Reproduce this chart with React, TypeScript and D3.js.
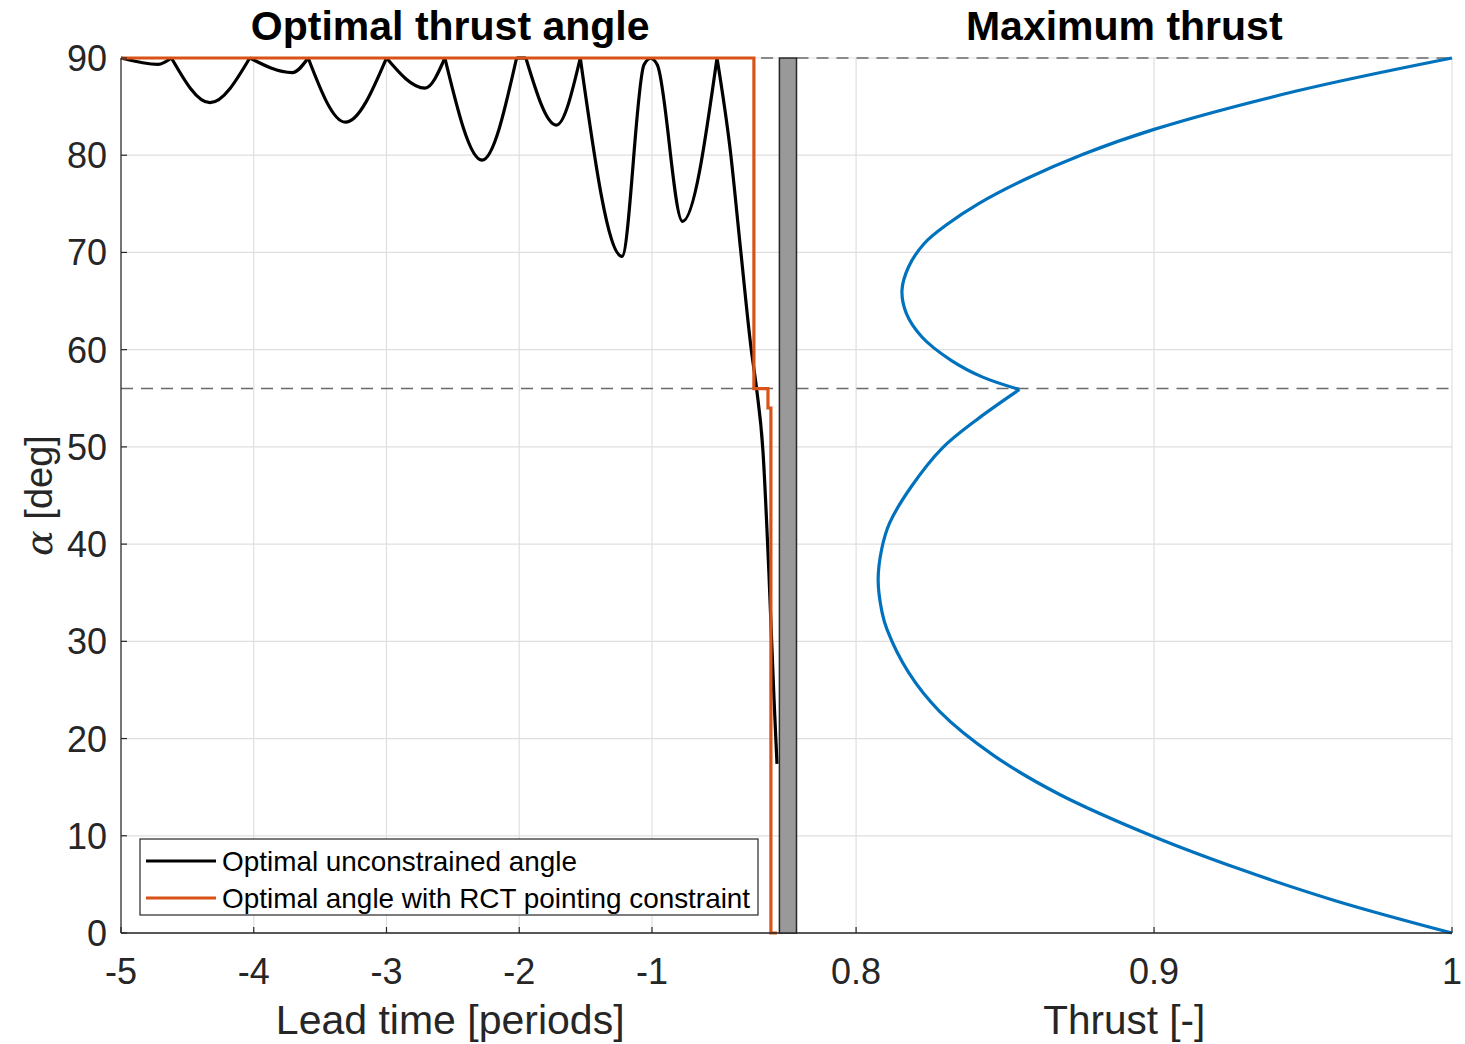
import React from "react";
import * as d3 from "d3";

// ---- data ----
const yTicks = [0, 10, 20, 30, 40, 50, 60, 70, 80, 90];
const leftTicks = [-5, -4, -3, -2, -1];
const rightTicks = [0.8, 0.9, 1];
const refLines = [90, 56];

// Optimal unconstrained angle (lead time [periods], alpha [deg])
const unconstrained: [number, number][] = [
  [-5, 90], [-4.72, 89.35], [-4.62, 90],
  [-4.33, 85.4], [-4.03, 90],
  [-3.71, 88.5], [-3.59, 90],
  [-3.31, 83.4], [-3.0, 90],
  [-2.71, 86.9], [-2.56, 90],
  [-2.28, 79.5], [-2.02, 90], [-1.95, 90],
  [-1.72, 83.1], [-1.54, 90],
  [-1.226, 69.6], [-1.06, 89.3], [-1.01, 89.95], [-0.96, 89.3],
  [-0.77, 73.2], [-0.51, 90],
  [-0.41, 80.5], [-0.33, 70], [-0.252, 60], [-0.212, 56], [-0.164, 49.6],
  [-0.119, 37], [-0.081, 24.2], [-0.058, 17.4],
];

// Optimal angle with RCT pointing constraint
const constrained: [number, number][] = [
  [-5, 90], [-0.232, 90], [-0.232, 56], [-0.126, 56], [-0.126, 54],
  [-0.104, 54], [-0.104, 0], [-0.058, 0],
];

// Maximum thrust (thrust [-], alpha [deg]) - upper branch (alpha > 56)
const thrustUpper: [number, number][] = [
  [1.0, 90], [0.9478, 86.6], [0.9, 82.66], [0.8762, 80.1], [0.8566, 77.5],
  [0.841, 75.0], [0.8306, 72.9], [0.8228, 70.9], [0.8176, 68.5],
  [0.8154, 66.1], [0.8169, 63.7], [0.8221, 61.3], [0.8319, 58.9],
  [0.8423, 57.2], [0.8548, 55.9],
];
// lower branch (alpha < 56)
const thrustLower: [number, number][] = [
  [0.8548, 55.9], [0.8405, 52.8], [0.829, 49.9], [0.8185, 45.9],
  [0.8113, 42.2], [0.8086, 39.5], [0.8074, 36.3], [0.8087, 33.0],
  [0.8104, 31.2], [0.8176, 26.8], [0.828, 22.8], [0.846, 18.3],
  [0.868, 14.3], [0.9, 9.9], [0.9285, 6.6],
  [0.9611, 3.3], [1.0, 0],
];

const W = 1465;
const H = 1044;
const FONT = "'Liberation Sans', Arial, Helvetica, sans-serif";
const TXT = "#262626";
const GRID = "#dfdfdf";

export default function App() {
  const y = d3.scaleLinear().domain([0, 90]).range([933, 58]);
  const xL = d3.scaleLinear().domain([-5, -0.04]).range([121, 779.4]);
  const xR = d3.scaleLinear().domain([0.78, 1]).range([796.5, 1452]);

  const [l0, l1] = xL.range();
  const [r0, r1] = xR.range();
  const [yb, yt] = y.range();

  // split unconstrained curve at 90-deg touch points to keep cusps
  const segs: [number, number][][] = [];
  let cur: [number, number][] = [];
  unconstrained.forEach((p) => {
    cur.push(p);
    if (p[1] === 90 && cur.length > 1) {
      segs.push(cur);
      cur = [p];
    }
  });
  if (cur.length > 1) segs.push(cur);

  const blackLine = d3
    .line<[number, number]>()
    .x((d) => xL(d[0]))
    .y((d) => y(d[1]))
    .curve(d3.curveMonotoneX);
  const orangeLine = d3
    .line<[number, number]>()
    .x((d) => xL(d[0]))
    .y((d) => y(d[1]));
  const blueLine = d3
    .line<[number, number]>()
    .x((d) => xR(d[0]))
    .y((d) => y(d[1]))
    .curve(d3.curveCatmullRom.alpha(0.5));

  return (
    <svg
      width={W}
      height={H}
      style={{ position: "absolute", left: 0, top: 0, background: "#fff" }}
      fontFamily={FONT}
    >
      <rect x={0} y={0} width={W} height={H} fill="#fff" />
      {/* grid */}
      <g stroke={GRID} strokeWidth={1.2}>
        {yTicks.map((t) => (
          <g key={"gy" + t}>
            <line x1={l0} x2={l1} y1={y(t)} y2={y(t)} />
            <line x1={r0} x2={r1} y1={y(t)} y2={y(t)} />
          </g>
        ))}
        {leftTicks.map((t) => (
          <line key={"gl" + t} x1={xL(t)} x2={xL(t)} y1={yb} y2={yt} />
        ))}
        {rightTicks.map((t) => (
          <line key={"gr" + t} x1={xR(t)} x2={xR(t)} y1={yb} y2={yt} />
        ))}
      </g>
      {/* dashed reference lines */}
      <g stroke="#6a6a6a" strokeWidth={1.5} strokeDasharray="12,8">
        {refLines.map((r) => (
          <g key={"r" + r}>
            <line x1={l0} x2={l1} y1={y(r)} y2={y(r)} />
            <line x1={r0} x2={r1} y1={y(r)} y2={y(r)} />
          </g>
        ))}
      </g>
      {/* curves */}
      <g fill="none" stroke="#000" strokeWidth={3.2} strokeLinejoin="round">
        {segs.map((s, i) => (
          <path key={"b" + i} d={blackLine(s) || ""} />
        ))}
      </g>
      <path d={orangeLine(constrained) || ""} fill="none" stroke="#D95319" strokeWidth={3.2} />
      <path d={blueLine(thrustUpper) || ""} fill="none" stroke="#0072BD" strokeWidth={3.2} />
      <path d={blueLine(thrustLower) || ""} fill="none" stroke="#0072BD" strokeWidth={3.2} />

      {/* axes */}
      <line x1={l0} x2={l0} y1={yb} y2={yt} stroke={TXT} strokeWidth={1.2} />
      <line x1={l0} x2={r1} y1={yb} y2={yb} stroke={TXT} strokeWidth={1.5} />
      {yTicks.map((t) => (
        <g key={"yt" + t}>
          <line x1={l0} x2={l0 + 6} y1={y(t)} y2={y(t)} stroke={TXT} strokeWidth={1.2} />
          <text x={107} y={y(t)} dy="0.36em" textAnchor="end" fontSize={36} fill={TXT}>
            {t}
          </text>
        </g>
      ))}
      {leftTicks.map((t) => (
        <g key={"xl" + t}>
          <line x1={xL(t)} x2={xL(t)} y1={yb} y2={yb - 6} stroke={TXT} strokeWidth={1.2} />
          <text x={xL(t)} y={984} textAnchor="middle" fontSize={36} fill={TXT}>
            {String(t)}
          </text>
        </g>
      ))}
      {rightTicks.map((t) => (
        <g key={"xr" + t}>
          <line x1={xR(t)} x2={xR(t)} y1={yb} y2={yb - 6} stroke={TXT} strokeWidth={1.2} />
          <text x={xR(t)} y={984} textAnchor="middle" fontSize={36} fill={TXT}>
            {String(t)}
          </text>
        </g>
      ))}

      {/* gray separator bar */}
      <rect x={l1} y={yt} width={r0 - l1} height={yb - yt} fill="#999999" stroke={TXT} strokeWidth={1.5} />

      {/* legend */}
      <rect x={140} y={839} width={618} height={76} fill="#fff" stroke={TXT} strokeWidth={1.2} />
      <line x1={146} x2={216} y1={861} y2={861} stroke="#000" strokeWidth={3.2} />
      <text x={222} y={861} dy="0.36em" fontSize={27.9} fill="#000">
        Optimal unconstrained angle
      </text>
      <line x1={146} x2={216} y1={898} y2={898} stroke="#D95319" strokeWidth={3.2} />
      <text x={222} y={898} dy="0.36em" fontSize={27.9} fill="#000">
        Optimal angle with RCT pointing constraint
      </text>

      {/* titles */}
      <text x={(l0 + l1) / 2} y={40} textAnchor="middle" fontSize={41} fontWeight="bold" fill="#000">
        Optimal thrust angle
      </text>
      <text x={(r0 + r1) / 2} y={40} textAnchor="middle" fontSize={41} fontWeight="bold" fill="#000">
        Maximum thrust
      </text>

      {/* axis labels */}
      <text x={(l0 + l1) / 2} y={1034} textAnchor="middle" fontSize={41} fill={TXT}>
        Lead time [periods]
      </text>
      <text x={(r0 + r1) / 2} y={1034} textAnchor="middle" fontSize={40.5} fill={TXT}>
        Thrust [-]
      </text>
      <text transform={`translate(52, ${(yb + yt) / 2}) rotate(-90)`} textAnchor="middle" fontSize={38} fill={TXT}>
        <tspan fontFamily="'DejaVu Serif', 'Liberation Serif', serif" fontStyle="italic">α</tspan>
        <tspan> [deg]</tspan>
      </text>
    </svg>
  );
}
